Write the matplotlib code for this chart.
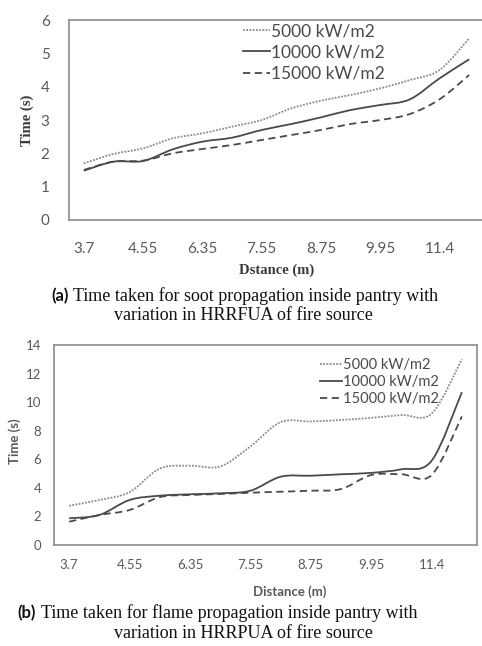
import matplotlib
matplotlib.use("Agg")
import matplotlib.pyplot as plt
from matplotlib.path import Path
from matplotlib.patches import PathPatch
from matplotlib.lines import Line2D
import numpy as np

# ---------------- data ----------------
distance_labels = ["3.7", "", "4.55", "", "6.35", "", "7.55", "", "8.75", "", "9.95", "", "11.4", ""]
series_names = ["5000 kW/m2", "10000 kW/m2", "15000 kW/m2"]

soot_5000 = [1.70, 1.98, 2.15, 2.45, 2.60, 2.80, 3.00, 3.35, 3.58, 3.75, 3.95, 4.20, 4.50, 5.45]
soot_10000 = [1.48, 1.75, 1.77, 2.12, 2.35, 2.47, 2.70, 2.88, 3.08, 3.30, 3.45, 3.62, 4.25, 4.82]
soot_15000 = [1.50, 1.75, 1.78, 2.00, 2.13, 2.25, 2.40, 2.55, 2.70, 2.88, 3.00, 3.18, 3.62, 4.35]

flame_5000 = [2.75, 3.15, 3.70, 5.35, 5.55, 5.50, 6.90, 8.60, 8.65, 8.75, 8.90, 9.10, 9.20, 13.0]
flame_10000 = [1.87, 2.10, 3.15, 3.45, 3.55, 3.62, 3.80, 4.78, 4.85, 4.95, 5.05, 5.30, 5.90, 10.7]
flame_15000 = [1.63, 2.10, 2.45, 3.35, 3.50, 3.57, 3.66, 3.73, 3.80, 3.92, 4.90, 4.95, 4.90, 9.00]

# ---------------- styles ----------------
styles = [dict(color="#8a8a8a", ls=(0, (1, 0.8)), lw=1.3),
          dict(color="#4a4a4a", ls="-", lw=1.3),
          dict(color="#4a4a4a", ls=(0, (4, 2.5)), lw=1.3)]
tick_color = "#595959"
frame_color = "#8c8c8c"
SANS = ["Lato", "DejaVu Sans"]
SERIF = ["Liberation Serif", "DejaVu Serif"]


def smooth_path(x, y):
    """Excel-like smoothed line through the data points (cubic Bezier segments)."""
    x = np.asarray(x, float)
    y = np.asarray(y, float)
    pts = np.column_stack([x, y])
    n = len(pts)
    verts = [pts[0]]
    codes = [Path.MOVETO]
    for i in range(n - 1):
        p0 = pts[i - 1] if i > 0 else pts[i]
        p1 = pts[i]
        p2 = pts[i + 1]
        p3 = pts[i + 2] if i + 2 < n else pts[i + 1]
        c1 = p1 + (p2 - p0) / 6.0
        c2 = p2 - (p3 - p1) / 6.0
        verts += [c1, c2, p2]
        codes += [Path.CURVE4] * 3
    return Path(verts, codes)


def draw_panel(ax, data, ymax, ystep, ytick_fs, xtick_fs):
    x = np.arange(len(distance_labels))
    for vals, st in zip(data, styles):
        patch = PathPatch(smooth_path(x, vals), facecolor="none",
                          edgecolor=st["color"], linestyle=st["ls"], lw=st["lw"],
                          transform=ax.transData, capstyle="butt")
        ax.add_patch(patch)
    ax.set_xlim(-0.5, len(distance_labels) - 0.5)
    ax.set_ylim(0, ymax)
    ax.set_yticks(np.arange(0, ymax + 0.01, ystep))
    ax.set_xticks(x)
    ax.set_xticklabels(distance_labels)
    ax.tick_params(length=0, colors=tick_color)
    for lab in ax.get_xticklabels():
        lab.set_fontfamily(SANS)
        lab.set_fontsize(xtick_fs)
        lab.set_color(tick_color)
    for lab in ax.get_yticklabels():
        lab.set_fontfamily(SANS)
        lab.set_fontsize(ytick_fs)
        lab.set_color(tick_color)
    for sp in ax.spines.values():
        sp.set_color(frame_color)
        sp.set_linewidth(1.2)


W, H = 482, 646
fig = plt.figure(figsize=(W / 100, H / 100), dpi=100)
fig.patch.set_facecolor("white")

handles = [Line2D([], [], color=s["color"], ls=s["ls"], lw=s["lw"]) for s in styles]

# ---------------- panel (a) ----------------
ax1 = fig.add_axes([69 / W, 1 - 220 / H, (484 - 69) / W, 200 / H])
draw_panel(ax1, [soot_5000, soot_10000, soot_15000], 6, 1, 11, 11)
ax1.tick_params(axis="x", pad=16)
ax1.tick_params(axis="y", pad=14)
ax1.set_ylabel("Time (s)", fontfamily=SERIF, fontweight="bold", fontsize=10.5,
               color="#3a3a3a")
ax1.yaxis.set_label_coords(-(69 - 34) / (484 - 69), 0.5)
ax1.set_xlabel("Dstance (m)", fontfamily=SERIF, fontweight="bold", fontsize=10.5,
               color="#3a3a3a")
ax1.xaxis.set_label_coords((277 - 69) / (484 - 69), -(270 - 220) / 200)
ax1.xaxis.label.set_va("center")
leg1 = ax1.legend(handles, series_names, loc="upper left", bbox_to_anchor=(0.381, 1.062),
                  frameon=False, handlelength=1.55, handletextpad=0.1, labelspacing=0.3,
                  prop=dict(family=SANS, size=12.5))
for t in leg1.get_texts():
    t.set_color("#4a4a4a")

# ---------------- panel (b) ----------------
ax2 = fig.add_axes([54 / W, 1 - 545 / H, (477 - 54) / W, 200 / H])
draw_panel(ax2, [flame_5000, flame_10000, flame_15000], 14, 2, 9.5, 9.5)
ax2.tick_params(axis="x", pad=10)
ax2.tick_params(axis="y", pad=9)
ax2.set_ylabel("Time (s)", fontfamily=SANS, fontweight="bold", fontsize=9.5,
               color="#595959")
ax2.yaxis.set_label_coords(-(54 - 21) / (477 - 54), 0.52)
ax2.set_xlabel("Distance (m)", fontfamily=SANS, fontweight="bold", fontsize=9.5,
               color="#595959")
ax2.xaxis.set_label_coords((290 - 54) / (477 - 54), -(592 - 545) / 200)
ax2.xaxis.label.set_va("center")
leg2 = ax2.legend(handles, series_names, loc="upper left", bbox_to_anchor=(0.598, 1.0),
                  frameon=False, handlelength=1.5, handletextpad=0.1, labelspacing=0.2,
                  prop=dict(family=SANS, size=10.5))
for t in leg2.get_texts():
    t.set_color("#4a4a4a")

# ---------------- captions ----------------
def caption(label, line1, line2, y1, y2, x_lab_end, x_text):
    fig.text(x_lab_end / W, 1 - y1 / H, label, fontfamily=SANS, fontweight="bold",
             fontsize=12, ha="right", va="center", color="#111111")
    fig.text(x_text / W, 1 - y1 / H, line1, fontfamily=SERIF, fontsize=13,
             ha="left", va="center", color="#111111")
    fig.text(243 / W, 1 - y2 / H, line2, fontfamily=SERIF, fontsize=13,
             ha="center", va="center", color="#111111")

caption("(a)", "Time taken for soot propagation inside pantry with",
        "variation in HRRFUA of fire source", 296, 315, 69, 73)
caption("(b)", "Time taken for flame propagation inside pantry with",
        "variation in HRRPUA of fire source", 613, 633, 36, 41)

fig.savefig("out.png", dpi=100, facecolor="white")
